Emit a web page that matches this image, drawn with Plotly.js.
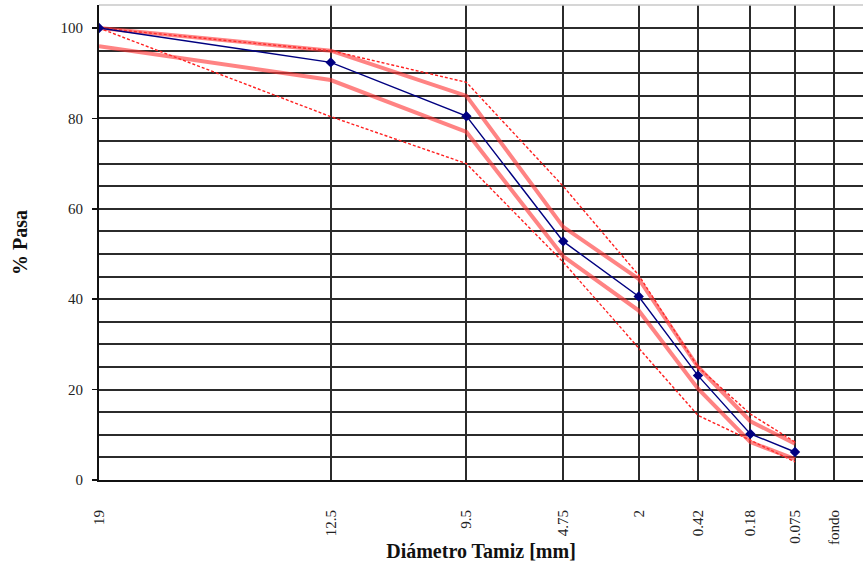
<!DOCTYPE html>
<html>
<head>
<meta charset="utf-8">
<script src="https://cdn.plot.ly/plotly-3.0.1.min.js"></script>
<style>html,body{margin:0;padding:0;background:#fff}#chart{width:863px;height:562px}</style>
</head>
<body>
<div id="chart"></div>
<script>
// Sieve labels and their position along the chart's horizontal scale
const sieveLabels = ["19", "12.5", "9.5", "4.75", "2", "0.42", "0.18", "0.075", "fondo"];
const sieveX      = [0, 231.7, 367.4, 464.2, 539.7, 599, 651.4, 696, 735];

// % passing (values for the 8 sieves with data)
const muestra      = [100, 92.4, 80.5, 52.8, 40.6, 23.1, 10.2, 6.2];
const bandaSup     = [100, 95, 85, 56, 44.5, 25, 13, 8];
const bandaInf     = [96, 88.5, 77, 49.5, 37.5, 20.2, 8.4, 4.6];
const especSup     = [100, 95, 88, 65, 45.3, 25, 14.6, 8.4];
const especInf     = [100, 80.4, 70, 48.2, 29.2, 14.3, 8.8, 4];

const yMinorGrid = [5, 10, 15, 25, 30, 35, 45, 50, 55, 65, 70, 75, 85, 90, 95];

const xd = sieveX.slice(0, muestra.length);
const serif = "Liberation Serif, Times New Roman, serif";
const gridCol = "#2b2b2b";

const traces = [
  {x: xd, y: especSup, mode: "lines", line: {color: "#ff2020", width: 1.4, dash: "3px,2px"}, hoverinfo: "skip"},
  {x: xd, y: especInf, mode: "lines", line: {color: "#ff2020", width: 1.4, dash: "3px,2px"}, hoverinfo: "skip"},
  {x: xd, y: bandaSup, mode: "lines", line: {color: "rgba(255,55,55,0.62)", width: 4}, hoverinfo: "skip"},
  {x: xd, y: bandaInf, mode: "lines", line: {color: "rgba(255,55,55,0.62)", width: 4}, hoverinfo: "skip"},
  {x: xd, y: muestra, mode: "lines+markers", line: {color: "#000080", width: 1.4},
   marker: {symbol: "diamond", size: 8, color: "#000080"}}
];

const layout = {
  width: 863, height: 562,
  margin: {l: 99, r: 0, t: 5, b: 82},
  paper_bgcolor: "#fff", plot_bgcolor: "#fff",
  showlegend: false,
  font: {family: serif, color: "#222", size: 15},
  xaxis: {
    range: [0, 764], tickmode: "array", tickvals: sieveX, ticktext: sieveLabels,
    tickangle: -90, ticks: "", showgrid: true, gridcolor: gridCol, gridwidth: 2,
    zeroline: false, showline: true, linecolor: "#111", linewidth: 2,
    tickfont: {family: serif, size: 15, color: "#222"}, ticklabelstandoff: 22,
    title: {text: "Diámetro Tamiz [mm]", font: {family: serif, size: 20, color: "#111", weight: "bold"}, standoff: 2},
    automargin: false, fixedrange: true
  },
  yaxis: {
    range: [0, 105.1], tickmode: "array", tickvals: [0, 20, 40, 60, 80, 100],
    ticks: "outside", ticklen: 5, tickcolor: "#111", tickwidth: 1.5,
    showgrid: true, gridcolor: gridCol, gridwidth: 2,
    minor: {tickmode: "array", tickvals: yMinorGrid, showgrid: true, gridcolor: gridCol, gridwidth: 2, ticks: ""},
    zeroline: false, showline: true, linecolor: "#111", linewidth: 2,
    tickfont: {family: serif, size: 15, color: "#222"}, ticklabelstandoff: 6,
    title: {text: "% Pasa", font: {family: serif, size: 20, color: "#111", weight: "bold"}, standoff: 28},
    automargin: false, fixedrange: true
  },
  shapes: [
    {type: "line", xref: "paper", yref: "paper", x0: 0, x1: 1, y0: 1, y1: 1, line: {color: "#c8c8c8", width: 1.5}}
  ]
};

Plotly.newPlot("chart", traces, layout, {displayModeBar: false, staticPlot: true});
</script>
</body>
</html>
